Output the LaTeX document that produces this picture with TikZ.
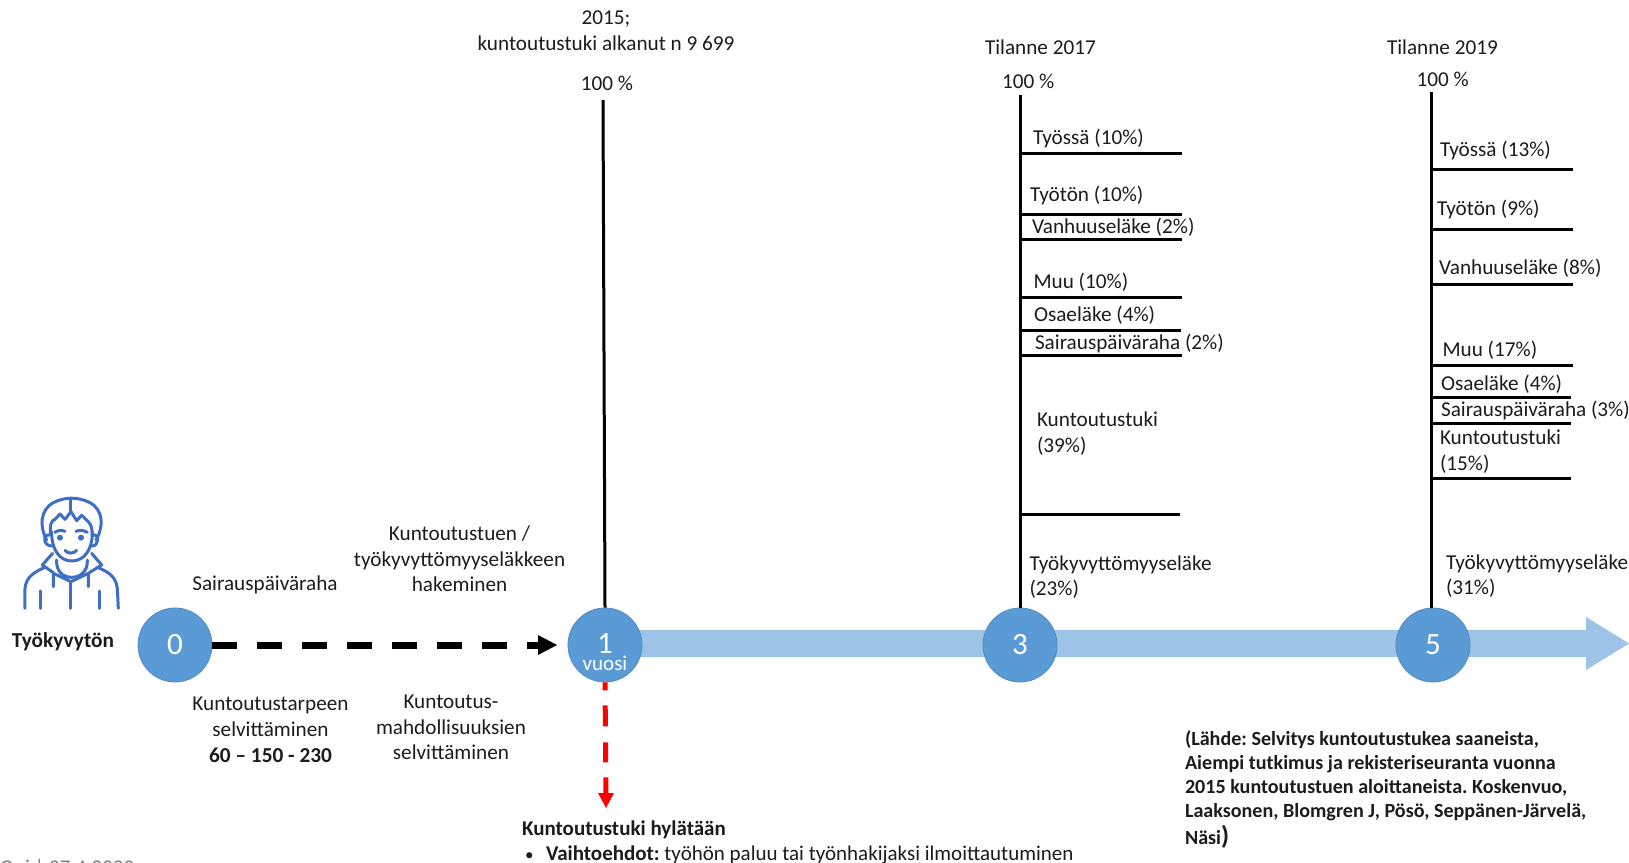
\documentclass[tikz,border=0pt]{standalone}
\usepackage{fontspec}
\setmainfont{Carlito}
\AtBeginDocument{\frenchspacing}
\usetikzlibrary{arrows.meta,shapes.arrows}
\definecolor{txt}{HTML}{1C1C1C}
\definecolor{circ}{HTML}{5B9BD5}
\definecolor{circd}{HTML}{4F8BC2}
\definecolor{bar}{HTML}{9DC3E6}
\definecolor{icon}{HTML}{3F6FC4}
\tikzset{
  lab/.style={inner sep=0pt,outer sep=0pt,anchor=west,text=txt,font=\fontsize{21.2}{26}\selectfont,text height=18pt,text depth=4pt},
  ctr/.style={inner sep=0pt,outer sep=0pt,anchor=center,text=txt,font=\fontsize{21.2}{26}\selectfont,text height=18pt,text depth=4pt},
  yearc/.style={circle,minimum size=74pt,inner sep=0pt,fill=circ,draw=circd,line width=0.8pt,text=white,font=\fontsize{31}{30}\selectfont},
  stem/.style={line width=3pt,draw=black},
  tick/.style={line width=3pt,draw=black},
  person/.style={draw=icon,line width=3pt,line cap=round,line join=round},
}
\begin{document}
\begin{tikzpicture}[x=1pt,y=-1pt]
\useasboundingbox (0,0) rectangle (1629,862);
\fill[white] (0,0) rectangle (1629,862);
% wide time arrow
\coordinate (bartip) at (1629,643.5);
\fill[bar] (605,630) -- (1586,630) -- (1586,617) -- (bartip) -- (1586,670) -- (1586,657) -- (605,657) -- cycle;
% year circles
\node[yearc] (c0) at (175,645) {0};
\node[yearc,align=center] (c1) at (605,645) {\fontsize{31}{16}\selectfont\rule{0pt}{34pt}1\\[-13pt]\fontsize{21}{17}\selectfont vuosi};
\node[yearc] (c3) at (1020,645) {3};
\node[yearc] (c5) at (1433,645) {5};
% stems
\coordinate (t1) at (603,100);
\coordinate (t3) at (1020,95);
\coordinate (t5) at (1431,92);
\draw[stem] (t1) -- (c1.north);
\draw[stem] (t3) -- (c3.north);
\draw[stem] (t5) -- (t5 |- c5.north);
% ticks 2017
\foreach \n/\y/\e in {a/153/1182,b/214/1182,c/239/1182,d/297/1182,e/330/1181,f/355/1182,g/514/1180}{
  \coordinate (l\n) at (1020,\y);
  \coordinate (r\n) at (\e,\y);
  \draw[tick] (l\n) -- (r\n);
}
% ticks 2019
\foreach \n/\y/\e in {a/169/1573,b/229/1573,c/284/1573,d/365/1573,e/397/1571,f/423/1571,g/478/1571}{
  \coordinate (p\n) at (1431,\y);
  \coordinate (q\n) at (\e,\y);
  \draw[tick] (p\n) -- (q\n);
}
% black dashed arrow
\coordinate (dashend) at (540,645);
\draw[black,line width=7pt,dash pattern=on 25pt off 20pt] (c0.east) -- (dashend);
\fill[black] (538,635) -- (557,645) -- (538,655) -- cycle;
% red dashed arrow
\coordinate (redend) at (606,794);
\draw[red,line width=5pt,dash pattern=on 8pt off 15pt on 21pt off 16pt on 20pt off 15pt on 17pt off 0pt] (c1.south) -- (redend);
\fill[red] (598,793) -- (606,808) -- (614,793) -- cycle;
% headings
\node[ctr] (h1) at (606,17) {2015;};
\node[ctr] (h2) at (606,43) {kuntoutustuki alkanut n 9 699};
\node[ctr] (h3) at (607,83) {100 \%};
\node[lab] (s0) at (985,47) {Tilanne 2017};
\node[lab] (s1) at (1002,81) {100 \%};
\node[lab] (u0) at (1387,47) {Tilanne 2019};
\node[lab] (u1) at (1416.5,79) {100 \%};
% 2017 labels
\node[lab] (s2) at (1033,137) {Työssä (10\%)};
\node[lab] (s3) at (1030,194) {Työtön (10\%)};
\node[lab] (s4) at (1032,226) {Vanhuuseläke (2\%)};
\node[lab] (s5) at (1033.5,281) {Muu (10\%)};
\node[lab] (s6) at (1034,314.5) {Osaeläke (4\%)};
\node[lab] (s7) at (1035,342) {Sairauspäiväraha (2\%)};
\node[lab] (s8) at (1037,419) {Kuntoutustuki};
\node[lab] (s9) at (1037,445) {(39\%)};
\node[lab] (s10) at (1029.5,563) {Työkyvyttömyyseläke};
\node[lab] (s11) at (1029.5,588.5) {(23\%)};
% 2019 labels
\node[lab] (u2) at (1440,149.5) {Työssä (13\%)};
\node[lab] (u3) at (1437,208) {Työtön (9\%)};
\node[lab] (u4) at (1439,267) {Vanhuuseläke (8\%)};
\node[lab] (u5) at (1442.5,349) {Muu (17\%)};
\node[lab] (u6) at (1441,383.5) {Osaeläke (4\%)};
\node[lab] (u7) at (1441,409) {Sairauspäiväraha (3\%)};
\node[lab] (u8) at (1440,437) {Kuntoutustuki};
\node[lab] (u9) at (1440,463) {(15\%)};
\node[lab] (u10) at (1446,562) {Työkyvyttömyyseläke};
\node[lab] (u11) at (1446,587.5) {(31\%)};
% left texts
\node[ctr,font=\fontsize{21.3}{24}\bfseries\selectfont] (w) at (63,640) {Työkyvytön};
\node[ctr] (k1) at (265,583) {Sairauspäiväraha};
\node[ctr] (k2) at (459.5,533) {Kuntoutustuen /};
\node[ctr] (k3) at (459.5,559) {työkyvyttömyyseläkkeen};
\node[ctr] (k4) at (459.5,584.5) {hakeminen};
\node[ctr] (k5) at (270.5,703.5) {Kuntoutustarpeen};
\node[ctr] (k6) at (270.5,729.5) {selvittäminen};
\node[ctr,font=\fontsize{21.3}{26}\bfseries\selectfont] (k7) at (270.5,755) {60 – 150 - 230};
\node[ctr] (k8) at (451,701.5) {Kuntoutus-};
\node[ctr] (k9) at (451,727) {mahdollisuuksien};
\node[ctr] (k10) at (451,752.5) {selvittäminen};
% rejection text
\node[lab,font=\fontsize{21}{24}\bfseries\selectfont] (x1) at (522,828) {Kuntoutustuki hylätään};
\node[lab,font=\fontsize{17}{24}\selectfont] (x2) at (525,853) {•};
\node[lab,font=\fontsize{21}{24}\selectfont] (x3) at (546,853) {\textbf{Vaihtoehdot:} työhön paluu tai työnhakijaksi ilmoittautuminen};
% source
\tikzset{src/.style={lab,font=\fontsize{20.1}{24}\bfseries\selectfont}}
\node[src] (y1) at (1185,738) {(Lähde: Selvitys kuntoutustukea saaneista,};
\node[src] (y2) at (1185,762) {Aiempi tutkimus ja rekisteriseuranta vuonna};
\node[src] (y3) at (1185,786) {2015 kuntoutustuen aloittaneista. Koskenvuo,};
\node[src] (y4) at (1185,810.5) {Laaksonen, Blomgren J, Pösö, Seppänen-Järvelä,};
\node[src] (y5) at (1185,837) {Näsi\fontsize{26}{24}\selectfont)};
% clipped footer
\begin{scope}
\clip (0,0) rectangle (1629,862);
\node[inner sep=0pt,anchor=base west,text=gray,font=\fontsize{21}{24}\selectfont] (foot) at (0,874) {Oui | 27.4.2020};
\end{scope}
% person icon
\begin{scope}[shift={(10,490)},x=0.3333pt,y=-0.3333pt]
\draw[person] (110,150) .. controls (88,110) and (90,60) .. (130,38) .. controls (165,20) and (205,20) .. (240,38) .. controls (280,60) and (282,110) .. (258,150);
\draw[person] (183,24) -- (183,65);
\draw[person] (122,135) .. controls (118,105) and (125,90) .. (135,88) -- (150,72) -- (165,88) -- (183,65) -- (200,92) -- (215,76) -- (235,95) .. controls (245,105) and (247,120) .. (246,135);
\draw[person] (125,125) .. controls (124,180) and (150,213) .. (185,213) .. controls (222,213) and (248,180) .. (247,125);
\draw[person] (135,127) .. controls (145,120) and (155,120) .. (165,124);
\draw[person] (198,124) .. controls (208,120) and (220,120) .. (232,127);
\fill[icon] (150,143) circle (9);
\fill[icon] (213,143) circle (9);
\draw[person] (118,135) .. controls (98,130) and (98,170) .. (128,168);
\draw[person] (250,135) .. controls (268,130) and (268,170) .. (245,168);
\draw[person] (165,181) .. controls (172,192) and (192,192) .. (200,181);
\draw[person] (140,210) .. controls (138,245) and (160,262) .. (185,262) .. controls (210,262) and (234,245) .. (232,210);
\draw[person] (128,190) -- (97,225) -- (130,248) -- (130,290);
\draw[person] (245,190) -- (275,225) -- (235,250) -- (235,290);
\draw[person] (130,250) -- (183,275) -- (235,250);
\draw[person] (45,355) -- (45,295) .. controls (48,260) and (75,245) .. (105,232);
\draw[person] (325,355) -- (322,295) .. controls (318,260) and (295,245) .. (262,232);
\draw[person] (183,275) -- (183,355);
\draw[person] (92,303) -- (92,355);
\draw[person] (270,303) -- (270,355);
\end{scope}
\end{tikzpicture}
\end{document}
